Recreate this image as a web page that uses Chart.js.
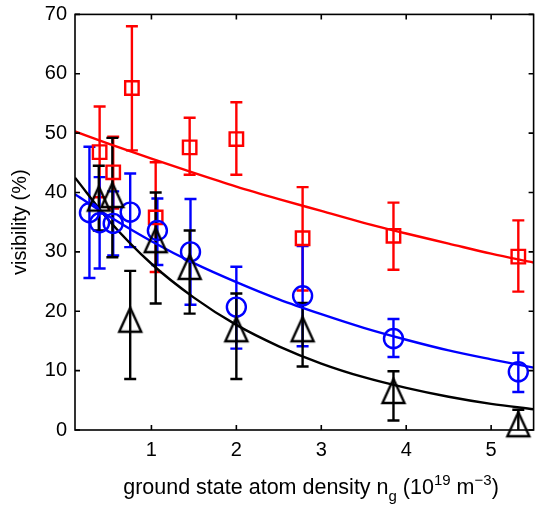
<!DOCTYPE html>
<html>
<head>
<meta charset="utf-8">
<script src="https://cdn.jsdelivr.net/npm/chart.js@4.4.0/dist/chart.umd.min.js"></script>
<style>
  html, body { margin: 0; padding: 0; background: #fff; }
  #wrap { position: relative; width: 548px; height: 508px; }
  #xtitle {
    position: absolute; left: 75px; width: 472px; top: 475px;
    text-align: center; font-family: "Liberation Sans", Arial, sans-serif;
    font-size: 21.5px; line-height: 24px; color: #000; white-space: nowrap;
  }
  #xtitle span { font-size: 15px; position: relative; }
</style>
</head>
<body>
<div id="wrap">
  <canvas id="chart" width="548" height="508"></canvas>
  <div id="xtitle">ground state atom density n<span style="top:7px">g</span> (10<span style="top:-9px">19</span> m<span style="top:-9px">&minus;3</span>)</div>
</div>
<script>
// measured points (x in 10^19 m^-3, visibility in %)
const xRed = [0.39, 0.55, 0.77, 1.05, 1.45, 2.0, 2.78, 3.85, 5.32]
const redVis = [46.8, 43.4, 57.6, 35.8, 47.6, 49.0, 32.3, 32.7, 29.2]
const redHi = [54.5, 49.4, 68.0, 45.1, 52.6, 55.2, 40.9, 38.3, 35.3]
const redLo = [39.2, 37.3, 47.1, 26.6, 43.0, 43.0, 23.5, 27.0, 23.3]

const xBlue = [0.27, 0.39, 0.55, 0.75, 1.07, 1.46, 2.0, 2.78, 3.85, 5.32]
const blueVis = [36.6, 34.9, 34.8, 36.7, 33.6, 30.0, 20.7, 22.6, 15.4, 9.8]
const blueHi = [47.7, 42.6, 40.2, 43.2, 39.0, 38.9, 27.5, 31.0, 18.7, 13.0]
const blueLo = [25.6, 27.2, 29.4, 30.8, 27.8, 21.1, 13.7, 14.1, 12.3, 6.4]

const xBlack = [0.38, 0.54, 0.75, 1.05, 1.45, 2.0, 2.78, 3.85, 5.32]
const blackVis = [38.3, 38.9, 17.9, 31.3, 26.8, 16.3, 16.3, 5.9, 0.3]
const blackHi = [44.5, 49.2, 26.8, 40.0, 33.6, 23.0, 21.4, 9.9, 3.4]
const blackLo = [33.6, 29.1, 8.6, 21.3, 19.6, 8.6, 10.7, 1.6, -2.8]

// fitted curves
const xFit = [0.1, 0.5, 1, 1.5, 2, 2.5, 3, 3.5, 4, 4.5, 5, 5.5]
const redFit = [50.3, 48.2, 45.7, 43.3, 41.0, 38.9, 36.9, 34.9, 33.1, 31.4, 29.7, 28.2]
const blueFit = [39.7, 36.0, 31.8, 28.1, 24.9, 22.0, 19.5, 17.2, 15.2, 13.4, 11.9, 10.5]
const blackFit = [42.5, 35.3, 28.0, 22.3, 17.7, 14.1, 11.2, 8.9, 7.1, 5.6, 4.4, 3.5]

const xTicks = [1, 2, 3, 4, 5]
const yTicks = [0, 10, 20, 30, 40, 50, 60, 70]

const RED = '#ff0000', BLUE = '#0000ff', BLACK = '#000000'
const LW = 2.4

const pts = (xs, ys) => xs.map((x, i) => ({ x: x, y: ys[i] }))

const errorGroups = [
    { xs: xRed, lo: redLo, hi: redHi, color: RED },
    { xs: xBlue, lo: blueLo, hi: blueHi, color: BLUE },
    { xs: xBlack, lo: blackLo, hi: blackHi, color: BLACK }
]

// matlab's triangle is a bit taller than wide, so build it as an image
// with the centroid in the middle of the canvas
function triangleMarker(w, h, lw, color) {
    const c = document.createElement('canvas')
    c.width = w + lw * 2 + 2
    c.height = Math.ceil(h * 4 / 3) + lw * 2
    const g = c.getContext('2d')
    const cx = c.width / 2, cy = c.height / 2
    g.strokeStyle = color
    g.lineWidth = lw
    g.beginPath()
    g.moveTo(cx, cy - 2 * h / 3)
    g.lineTo(cx + w / 2, cy + h / 3)
    g.lineTo(cx - w / 2, cy + h / 3)
    g.closePath()
    g.stroke()
    return c
}

// vertical error bars with caps
const errorBars = {
    id: 'errorBars',
    beforeDatasetsDraw(chart) {
        const { ctx, chartArea: a, scales: { x, y } } = chart
        ctx.save()
        ctx.beginPath()
        ctx.rect(a.left, a.top - 2, a.right - a.left, a.bottom - a.top + 2)
        ctx.clip()
        ctx.lineWidth = LW
        errorGroups.forEach(g => {
            ctx.strokeStyle = g.color
            ctx.beginPath()
            g.xs.forEach((xv, i) => {
                const px = x.getPixelForValue(xv)
                const top = y.getPixelForValue(g.hi[i])
                const bot = y.getPixelForValue(g.lo[i])
                ctx.moveTo(px, top); ctx.lineTo(px, bot)
                ctx.moveTo(px - 6, top); ctx.lineTo(px + 6, top)
                ctx.moveTo(px - 6, bot); ctx.lineTo(px + 6, bot)
            })
            ctx.stroke()
        })
        ctx.restore()
    }
}

// matlab style box with inward ticks
const boxAxes = {
    id: 'boxAxes',
    afterDraw(chart) {
        const { ctx, chartArea: a, scales: { x, y } } = chart
        ctx.save()
        ctx.strokeStyle = '#000'
        ctx.lineWidth = 1.6
        ctx.strokeRect(a.left, a.top, a.right - a.left, a.bottom - a.top)
        ctx.beginPath()
        xTicks.forEach(v => {
            const px = x.getPixelForValue(v)
            ctx.moveTo(px, a.bottom); ctx.lineTo(px, a.bottom - 5)
            ctx.moveTo(px, a.top); ctx.lineTo(px, a.top + 5)
        })
        yTicks.forEach(v => {
            const py = y.getPixelForValue(v)
            ctx.moveTo(a.left, py); ctx.lineTo(a.left + 5, py)
            ctx.moveTo(a.right, py); ctx.lineTo(a.right - 5, py)
        })
        ctx.stroke()
        ctx.restore()
    }
}

const lineSet = (ys, color) => ({
    data: pts(xFit, ys),
    showLine: true,
    borderColor: color,
    borderWidth: LW,
    pointRadius: 0,
    cubicInterpolationMode: 'monotone',
    fill: false,
    order: 5
})

const markSet = (xs, ys, color, style, r) => ({
    data: pts(xs, ys),
    showLine: false,
    pointStyle: style,
    pointRadius: r,
    pointBorderWidth: LW,
    borderColor: color,
    backgroundColor: 'rgba(0,0,0,0)',
    clip: false,
    order: 1
})

Chart.defaults.font.family = '"Liberation Sans", Arial, sans-serif'
Chart.defaults.color = '#000'

new Chart(document.getElementById('chart'), {
    type: 'scatter',
    data: {
        datasets: [
            lineSet(redFit, RED),
            lineSet(blueFit, BLUE),
            lineSet(blackFit, BLACK),
            markSet(xBlack, blackVis, BLACK, triangleMarker(22, 24, LW, BLACK), 12),
            markSet(xBlue, blueVis, BLUE, 'circle', 9.5),
            markSet(xRed, redVis, RED, 'rect', 9.5)
        ]
    },
    options: {
        responsive: false,
        animation: false,
        layout: { padding: { top: 12, right: 1, left: 0, bottom: 0 } },
        plugins: { legend: { display: false }, tooltip: { enabled: false } },
        scales: {
            x: {
                type: 'linear',
                min: 0.1,
                max: 5.5,
                afterBuildTicks: s => { s.ticks = xTicks.map(v => ({ value: v })) },
                afterFit: s => { s.height = 78; s.paddingLeft = 0; s.paddingRight = 0 },
                grid: { display: false, drawTicks: false },
                border: { display: false },
                ticks: { font: { size: 20 }, padding: 8, maxRotation: 0 }
            },
            y: {
                min: 0,
                max: 70,
                afterBuildTicks: s => { s.ticks = yTicks.map(v => ({ value: v })) },
                afterFit: s => { s.width = 75; s.paddingTop = 0; s.paddingBottom = 0 },
                grid: { display: false, drawTicks: false },
                border: { display: false },
                ticks: { font: { size: 20 }, padding: 8 },
                title: { display: true, text: 'visibility (%)', font: { size: 20 }, padding: { top: 8, bottom: 0 } }
            }
        }
    },
    plugins: [errorBars, boxAxes]
})
</script>
</body>
</html>
